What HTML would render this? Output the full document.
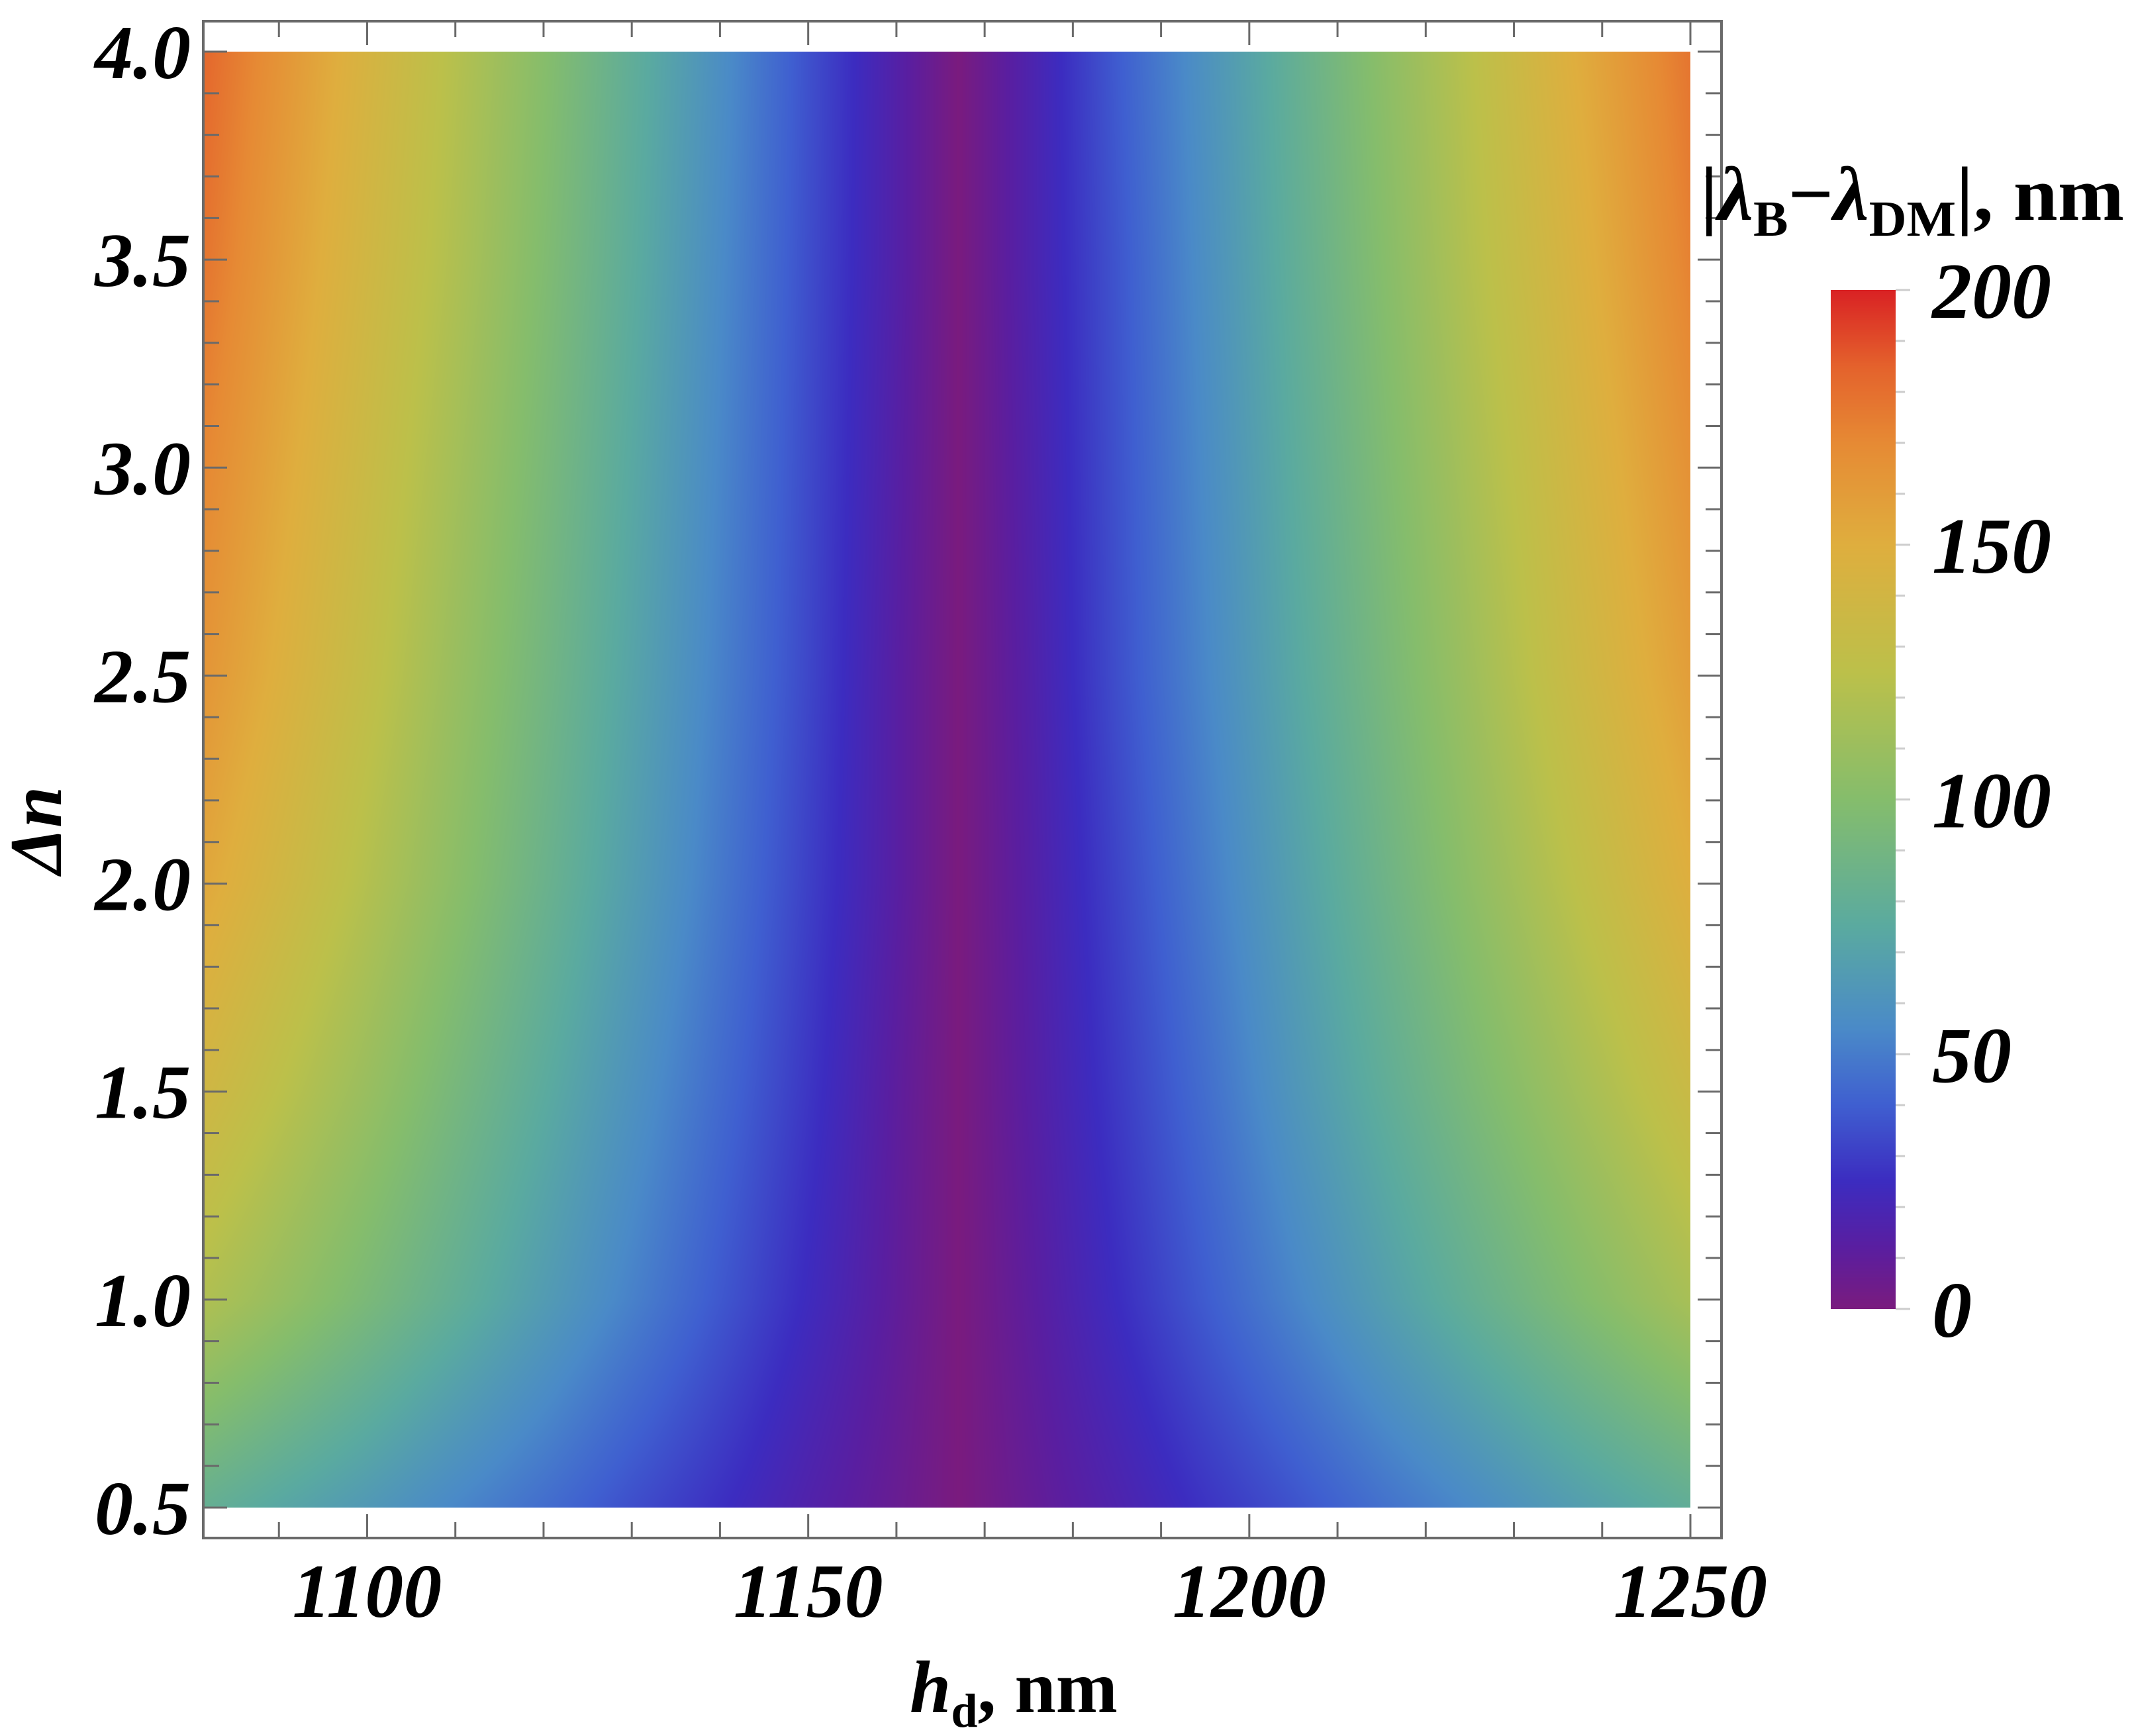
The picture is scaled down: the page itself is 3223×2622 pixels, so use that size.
<!DOCTYPE html>
<html><head><meta charset="utf-8">
<style>
html,body{margin:0;padding:0;background:#fff;}
#wrap{position:relative;width:3223px;height:2622px;overflow:hidden;background:#fff;}
canvas{position:absolute;}
svg{position:absolute;left:0;top:0;}
text{font-family:"Liberation Serif",serif;fill:#000;}
</style></head>
<body>
<div id="wrap">
<canvas id="heat" width="2245" height="2199" style="left:308px;top:78px;"></canvas>
<canvas id="cbar" width="98" height="1539" style="left:2765px;top:438px;"></canvas>
<svg id="ax" width="3223" height="2622"></svg>
</div>
<script>
// ---- data ----
const hdValues = [1082,1090,1100,1110,1120,1130,1140,1150,1160,1167,1175,1185,1195,1205,1215,1225,1235,1250];
const dnValues = [4.0,3.5,3.0,2.5,2.0,1.5,1.0,0.5];
const row40 = [182,165,143,122,101,79,58,36,15,0,17,39,60,81,103,124,146,178];
const row35 = [177,160,139,119,98,77,56,35,15,0,17,37,58,79,100,121,141,173];
const row30 = [170,154,134,114,94,74,54,34,14,0,16,36,56,76,96,116,136,166];
const row25 = [163,148,129,109,90,71,52,33,13,0,15,35,54,73,92,111,131,159];
const row20 = [153,139,121,103,85,67,49,31,13,0,14,32,50,68,86,104,122,149];
const row15 = [138,125,109,92,76,60,44,28,11,0,13,29,45,62,78,94,110,134];
const row10 = [119,108,94,80,66,52,38,24,10,0,11,25,39,53,67,81,95,116];
const row05 = [81,73,64,54,45,35,26,16,7,0,8,17,27,36,46,55,65,79];
const valueRows = [row40,row35,row30,row25,row20,row15,row10,row05];
const xTicks = [1100,1150,1200,1250];
const yTicks = [0.5,1.0,1.5,2.0,2.5,3.0,3.5,4.0];
const cbTicks = [0,50,100,150,200];
const cmapVals = [0,12,25,40,55,75,100,125,150,170,185,200];
const cmapCols = ['#7a1b7e','#5a1ea0','#3c2cc0','#3f5fd0','#4a8ac8','#5aaaa0','#85bd6c','#bcc04a','#dfae3e','#e68a34','#e4622c','#d92224'];

// ---- scales ----
const X0=308, X1=2553, Y0=78, Y1=2277;
const xMin=1081.5, xMax=1250, yMin=0.5, yMax=4.0;
const sx = v => X0 + (v-xMin)/(xMax-xMin)*(X1-X0);
const sy = v => Y1 - (v-yMin)/(yMax-yMin)*(Y1-Y0);
const CB_T=438, CB_B=1977, CB_L=2765, CB_R=2863;
const sc = v => CB_B - v/200*(CB_B-CB_T);

const cmapRGB = cmapCols.map(h=>[parseInt(h.substr(1,2),16),parseInt(h.substr(3,2),16),parseInt(h.substr(5,2),16)]);
function color(v){
  if(v<=cmapVals[0]) return cmapRGB[0];
  for(let i=1;i<cmapVals.length;i++){
    if(v<=cmapVals[i]){const t=(v-cmapVals[i-1])/(cmapVals[i]-cmapVals[i-1]);const a=cmapRGB[i-1],b=cmapRGB[i];
      return [a[0]+(b[0]-a[0])*t,a[1]+(b[1]-a[1])*t,a[2]+(b[2]-a[2])*t];}
  }
  return cmapRGB[cmapRGB.length-1];
}
function locate(arr,v){
  const asc = arr[arr.length-1]>arr[0];
  for(let i=0;i<arr.length-1;i++){
    const a=arr[i],b=arr[i+1];
    if(asc? (v>=a&&v<=b) : (v<=a&&v>=b)) return [i,(v-a)/(b-a)];
  }
  if(asc) return v<arr[0]?[0,0]:[arr.length-2,1];
  return v>arr[0]?[0,0]:[arr.length-2,1];
}
(function(){
  const c=document.getElementById('heat');const ctx=c.getContext('2d');
  const W=c.width,H=c.height;const img=ctx.createImageData(W,H);const d=img.data;
  const colIdx=[];for(let px=0;px<W;px++){const hd=xMin+(px+0.5)/W*(xMax-xMin);colIdx.push(locate(hdValues,hd));}
  for(let py=0;py<H;py++){
    const dn=yMax-(py+0.5)/H*(yMax-yMin);const [ri,rt]=locate(dnValues,dn);
    const ra=valueRows[ri],rb=valueRows[ri+1];
    for(let px=0;px<W;px++){
      const [ci,ct]=colIdx[px];
      const va=ra[ci]+(ra[ci+1]-ra[ci])*ct, vb=rb[ci]+(rb[ci+1]-rb[ci])*ct;
      const col=color(va+(vb-va)*rt);const k=(py*W+px)*4;
      d[k]=col[0];d[k+1]=col[1];d[k+2]=col[2];d[k+3]=255;
    }
  }
  ctx.putImageData(img,0,0);
  const cb=document.getElementById('cbar');const cx=cb.getContext('2d');
  for(let py=0;py<cb.height;py++){const v=200*(1-(py+0.5)/cb.height);const col=color(v);
    cx.fillStyle='rgb('+col.map(Math.round).join(',')+')';cx.fillRect(0,py,cb.width,1);}
})();

const svg=document.getElementById('ax');const NS='http://www.w3.org/2000/svg';
function mk(tag,attrs,parent){const e=document.createElementNS(NS,tag);for(const k in attrs)e.setAttribute(k,attrs[k]);(parent||svg).appendChild(e);return e;}
const F={l:307,t:32,r:2600,b:2323};
const frame=mk('rect',{x:F.l,y:F.t,width:F.r-F.l,height:F.b-F.t,fill:'none',stroke:'#6a6a6a','stroke-width':4});


for(let v=1090;v<=1250;v+=10){
  const major=(v%50===0);const len=major?36:24;const x=sx(v);
  const t1=mk('line',{x1:x,x2:x,y1:F.b,y2:F.b-len,stroke:'#6a6a6a','stroke-width':3});
  
  
  const t2=mk('line',{x1:x,x2:x,y1:F.t,y2:F.t+len,stroke:'#6a6a6a','stroke-width':3});
  
  
}
for(let i=5;i<=40;i++){
  const v=i/10;const major=(i%5===0);const len=major?36:24;const y=sy(v);
  const t1=mk('line',{x1:F.l,x2:F.l+len,y1:y,y2:y,stroke:'#6a6a6a','stroke-width':3});
  
  
  const t2=mk('line',{x1:F.r,x2:F.r-len,y1:y,y2:y,stroke:'#6a6a6a','stroke-width':3});
  
  
}
xTicks.forEach(v=>{
  const t=mk('text',{x:sx(v),y:2442,'text-anchor':'middle','font-size':116,'font-weight':'bold','font-style':'italic'});
  t.textContent=String(v);
  
  
});
yTicks.forEach(v=>{
  const t=mk('text',{x:288,y:sy(v)+40,'text-anchor':'end','font-size':116,'font-weight':'bold','font-style':'italic'});
  t.textContent=v.toFixed(1);
  
  
});
for(let v=0;v<=200;v+=10){
  const major=(v%50===0);const y=sc(v);
  const t=mk('line',{x1:CB_R,x2:CB_R+(major?22:14),y1:y,y2:y,stroke:'#cccccc','stroke-width':3});
  
  
}
cbTicks.forEach(v=>{
  const t=mk('text',{x:2918,y:sc(v)+42,'text-anchor':'start','font-size':120,'font-weight':'bold','font-style':'italic'});
  t.textContent=String(v);
  
  
});
</script>
<svg width="3223" height="2622" style="position:absolute;left:0;top:0;">
<text x="1531" y="2586" text-anchor="middle" font-size="112" font-weight="bold" style="font-family:'Liberation Serif',serif"><tspan font-style="italic">h</tspan><tspan font-size="72" dy="22">d</tspan><tspan dy="-22">, nm</tspan></text>
<text transform="translate(92,1254) rotate(-90)" text-anchor="middle" font-size="112" font-weight="bold" font-style="italic" style="font-family:'Liberation Serif',serif">Δn</text>
<text x="2568" y="332" font-size="116" font-weight="bold" textLength="640" lengthAdjust="spacingAndGlyphs" style="font-family:'Liberation Serif',serif">|<tspan font-style="italic">λ</tspan><tspan font-size="76" dy="24">B</tspan><tspan dy="-24">−</tspan><tspan font-style="italic">λ</tspan><tspan font-size="76" dy="24">DM</tspan><tspan dy="-24">|, nm</tspan></text>
</svg>
</body></html>
